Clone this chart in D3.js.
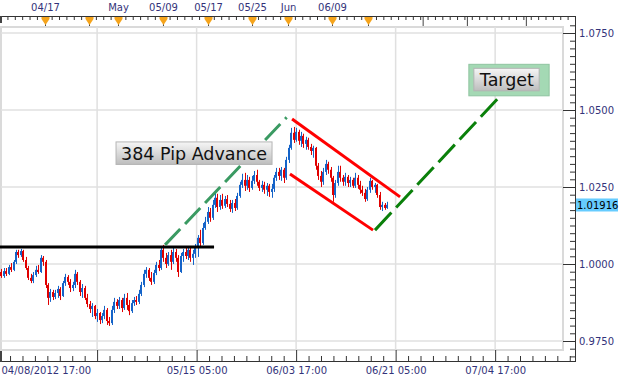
<!DOCTYPE html>
<html><head><meta charset="utf-8">
<script src="https://cdn.jsdelivr.net/npm/d3@7"></script>
<style>body{margin:0;background:#fff}svg{display:block}text{font-family:"DejaVu Sans",Verdana,sans-serif}</style>
</head><body><svg id="c" width="624" height="382"></svg>
<script>
// ---- data (8-hour bars, EUR/CHF-like price) ----
const opens=[.9974,.9961,.9977,.9968,.9990,.9981,1.0007,1.0039,1.0029,1.0042,
1.0013,.9987,.9955,.9945,.9964,.9981,.9974,1.0020,1.0007,.9932,
.9890,.9909,.9893,.9906,.9919,.9896,.9938,.9958,.9942,.9922,
.9932,.9968,.9942,.9909,.9922,.9890,.9870,.9854,.9864,.9831,
.9841,.9818,.9831,.9851,.9815,.9808,.9851,.9877,.9864,.9883,
.9857,.9890,.9867,.9847,.9873,.9883,.9877,.9903,.9932,.9968,
.9981,.9955,.9942,.9971,.9997,.9987,1.0046,1.0020,1.0000,1.0029,
1.0007,1.0039,1.0020,.9974,1.0026,1.0039,1.0026,1.0046,1.0020,1.0033,
1.0052,1.0085,1.0068,1.0117,1.0137,1.0169,1.0150,1.0192,1.0215,1.0185,
1.0208,1.0189,1.0211,1.0195,1.0179,1.0198,1.0182,1.0221,1.0257,1.0273,
1.0254,1.0273,1.0247,1.0270,1.0289,1.0267,1.0247,1.0257,1.0241,1.0254,
1.0234,1.0244,1.0280,1.0299,1.0286,1.0306,1.0280,1.0338,1.0377,1.0426,
1.0403,1.0429,1.0400,1.0416,1.0390,1.0403,1.0380,1.0367,1.0377,1.0319,
1.0286,1.0267,1.0299,1.0325,1.0306,1.0280,1.0224,1.0263,1.0299,1.0280,
1.0267,1.0283,1.0263,1.0273,1.0254,1.0280,1.0257,1.0241,1.0231,1.0211,
1.0241,1.0270,1.0250,1.0257,1.0224,1.0185,1.0192,1.0182];
const highs=[.9984,.9987,.9987,.9997,1.0003,1.0013,1.0046,1.0046,1.0049,1.0046,
1.0023,.9994,.9968,.9974,.9994,.9997,1.0029,1.0026,1.0013,.9938,
.9919,.9916,.9916,.9929,.9925,.9945,.9968,.9964,.9951,.9942,
.9981,.9974,.9948,.9935,.9929,.9903,.9880,.9873,.9867,.9854,
.9844,.9841,.9864,.9857,.9828,.9864,.9890,.9886,.9893,.9890,
.9903,.9906,.9883,.9883,.9893,.9896,.9916,.9942,.9981,.9990,
.9987,.9974,.9981,1.0007,1.0013,1.0052,1.0062,1.0036,1.0039,1.0046,
1.0052,1.0049,1.0029,1.0036,1.0049,1.0055,1.0055,1.0052,1.0046,1.0065,
1.0094,1.0111,1.0133,1.0153,1.0185,1.0182,1.0208,1.0231,1.0228,1.0224,
1.0228,1.0221,1.0224,1.0208,1.0208,1.0211,1.0231,1.0267,1.0293,1.0296,
1.0289,1.0283,1.0286,1.0302,1.0306,1.0273,1.0270,1.0267,1.0263,1.0260,
1.0260,1.0289,1.0312,1.0312,1.0315,1.0312,1.0348,1.0387,1.0442,1.0445,
1.0442,1.0436,1.0429,1.0423,1.0413,1.0410,1.0390,1.0384,1.0380,1.0328,
1.0302,1.0312,1.0338,1.0332,1.0315,1.0286,1.0273,1.0319,1.0319,1.0289,
1.0296,1.0289,1.0283,1.0280,1.0296,1.0289,1.0270,1.0254,1.0244,1.0250,
1.0280,1.0273,1.0263,1.0260,1.0234,1.0202,1.0198,1.0202];
const lows=[.9955,.9955,.9961,.9964,.9974,.9977,1.0000,1.0020,1.0023,1.0007,
.9981,.9948,.9938,.9938,.9958,.9968,.9971,.9994,.9922,.9867,
.9877,.9883,.9886,.9890,.9883,.9893,.9929,.9932,.9909,.9912,
.9922,.9932,.9896,.9890,.9883,.9860,.9841,.9828,.9821,.9812,
.9805,.9808,.9821,.9802,.9799,.9802,.9841,.9854,.9854,.9844,
.9851,.9851,.9834,.9841,.9864,.9867,.9870,.9896,.9925,.9955,
.9945,.9932,.9935,.9964,.9977,.9981,1.0007,.9987,.9994,.9981,
1.0000,1.0007,.9958,.9971,1.0007,1.0016,1.0013,1.0007,.9997,1.0020,
1.0023,1.0052,1.0062,1.0111,1.0130,1.0137,1.0143,1.0182,1.0169,1.0176,
1.0179,1.0182,1.0185,1.0169,1.0166,1.0172,1.0176,1.0215,1.0247,1.0237,
1.0241,1.0234,1.0241,1.0260,1.0254,1.0237,1.0234,1.0228,1.0221,1.0218,
1.0215,1.0234,1.0270,1.0273,1.0270,1.0263,1.0273,1.0328,1.0371,1.0393,
1.0397,1.0387,1.0380,1.0377,1.0371,1.0371,1.0354,1.0345,1.0306,1.0273,
1.0250,1.0257,1.0289,1.0293,1.0267,1.0202,1.0215,1.0254,1.0267,1.0254,
1.0254,1.0250,1.0250,1.0247,1.0247,1.0244,1.0228,1.0221,1.0202,1.0205,
1.0231,1.0241,1.0231,1.0215,1.0176,1.0172,1.0176,1.0179];
const closes=[.9961,.9977,.9968,.9990,.9981,1.0007,1.0039,1.0029,1.0042,1.0013,
.9987,.9955,.9945,.9964,.9981,.9974,1.0020,1.0007,.9932,.9890,
.9909,.9893,.9906,.9919,.9896,.9938,.9958,.9942,.9922,.9932,
.9968,.9942,.9909,.9922,.9890,.9870,.9854,.9864,.9831,.9841,
.9818,.9831,.9851,.9815,.9808,.9851,.9877,.9864,.9883,.9857,
.9890,.9867,.9847,.9873,.9883,.9877,.9903,.9932,.9968,.9981,
.9955,.9942,.9971,.9997,.9987,1.0046,1.0020,1.0000,1.0029,1.0007,
1.0039,1.0020,.9974,1.0026,1.0039,1.0026,1.0046,1.0020,1.0033,1.0052,
1.0085,1.0068,1.0117,1.0137,1.0169,1.0150,1.0192,1.0215,1.0185,1.0208,
1.0189,1.0211,1.0195,1.0179,1.0198,1.0182,1.0221,1.0257,1.0273,1.0254,
1.0273,1.0247,1.0270,1.0289,1.0267,1.0247,1.0257,1.0241,1.0254,1.0234,
1.0244,1.0280,1.0299,1.0286,1.0306,1.0280,1.0338,1.0377,1.0426,1.0403,
1.0429,1.0400,1.0416,1.0390,1.0403,1.0380,1.0367,1.0377,1.0319,1.0286,
1.0267,1.0299,1.0325,1.0306,1.0280,1.0224,1.0263,1.0299,1.0280,1.0267,
1.0283,1.0263,1.0273,1.0254,1.0280,1.0257,1.0241,1.0231,1.0211,1.0241,
1.0270,1.0250,1.0257,1.0224,1.0185,1.0192,1.0182,1.0192];
const lastPrice=1.01916;

// axis tick values / labels (x in 4-hour bar units)
const priceTicks=[0.975,1.0,1.025,1.05,1.075];
const priceTickLabels=["0.9750","1.0000","1.0250","1.0500","1.0750"];
const bottomTickUnits=[0,81,162,243,324,405];
const bottomTickLabels=["04/08/2012 17:00","","05/15 05:00","06/03 17:00","06/21 05:00","07/04 17:00"];
const topLabelUnits=[38.6,98,134.6,171.3,207.1,236.4,272.2];
const topLabels=["04/17","May","05/09","05/17","05/25","Jun","06/09"];
const eventUnits=[38.6,74.4,98,134.6,171.3,207.1,236.4,272.2,301.5];
const topLongTickUnits=[346,382,430];

// annotations in data units [unit, price]
const supportLine=[[0,1.0055],[176.2,1.0055]];
const advanceLine=[[136.3,1.0062],[235.3,1.0476]];
const channelUpper=[[239.7,1.0471],[327.6,1.0218]];
const channelLower=[[238.0,1.0292],[305.6,1.0110]];
const projectionLine=[[307.2,1.0110],[411.4,1.0555]];
const advanceLabel={text:"384 Pip Advance",u:159.9,p:1.0359};
const targetLabel={text:"Target",u:414.6,p:1.0598};

// ---- drawing ----
const svg=d3.select("#c");
const x=d3.scaleLinear().domain([0,460]).range([-2.4,562.7]);
const y=d3.scaleLinear().domain([0.975,1.075]).range([341,33]);
const L=1,R=563,T=27,B=350,AX=575,TOPY=16,BOTY=361;
const RED="#e00000",BLUE="#1463c8",TXT="#33337a";

const defs=svg.append("defs");
const gr=defs.append("linearGradient").attr("id","gbox").attr("x1",0).attr("y1",0).attr("x2",0).attr("y2",1);
gr.append("stop").attr("offset","0%").attr("stop-color","#f6f6f6");
gr.append("stop").attr("offset","100%").attr("stop-color","#bdbdbd");

svg.append("rect").attr("x",L).attr("y",T).attr("width",R-L).attr("height",B-T)
  .attr("fill","#fff").attr("stroke","#dadada").attr("stroke-width",2);
const grid=svg.append("g").attr("stroke","#e0e0e0").attr("stroke-width",1.5);
bottomTickUnits.slice(1).forEach(u=>grid.append("line").attr("x1",x(u)).attr("x2",x(u)).attr("y1",T).attr("y2",B));
priceTicks.forEach(p=>grid.append("line").attr("x1",L).attr("x2",R).attr("y1",y(p)).attr("y2",y(p)));

// candles
const bars=opens.map((o,i)=>({u:2*i+3,o,h:highs[i],l:lows[i],c:closes[i]}));
const cg=svg.append("g");
bars.forEach(d=>{
  const col=d.c>=d.o?BLUE:RED, px=Math.round(x(d.u));
  cg.append("rect").attr("x",px).attr("width",1).attr("y",y(d.h)).attr("height",y(d.l)-y(d.h)).attr("fill",col);
  const top=y(Math.max(d.o,d.c)), bot=y(Math.min(d.o,d.c));
  cg.append("rect").attr("x",px-1).attr("width",2).attr("y",top).attr("height",Math.max(1,bot-top)).attr("fill",col);
});

// annotation lines
const line=d3.line().x(d=>x(d[0])).y(d=>y(d[1]));
svg.append("path").attr("d",line(supportLine)).attr("stroke","#000").attr("stroke-width",3).attr("fill","none");
svg.append("path").attr("d",line(advanceLine)).attr("stroke","#3a9a62").attr("stroke-width",3).attr("stroke-dasharray","22,7").attr("fill","none");
svg.append("path").attr("d",line(channelUpper)).attr("stroke","#ff0000").attr("stroke-width",3).attr("fill","none");
svg.append("path").attr("d",line(channelLower)).attr("stroke","#ff0000").attr("stroke-width",3).attr("fill","none");
svg.append("path").attr("d",line(projectionLine)).attr("stroke","#0a800a").attr("stroke-width",3).attr("stroke-dasharray","24,7").attr("fill","none");

function labelBox(a,outer){
  const g=svg.append("g");
  const t=g.append("text").attr("x",x(a.u)).attr("y",y(a.p)+6.5).attr("text-anchor","middle")
    .attr("font-size","17.5px").attr("fill","#111").text(a.text);
  const bb=t.node().getBBox(), base=y(a.p)+6.5;
  const bx=bb.x-5, bw=bb.width+10, by=base-18, bh=22.5;
  if(outer){g.insert("rect","text").attr("x",bx-5).attr("y",by-4).attr("width",bw+15).attr("height",bh+9)
    .attr("fill","#a4d9b4").attr("stroke","#8fc4a0").attr("stroke-width",1);}
  g.insert("rect","text").attr("x",bx).attr("y",by).attr("width",bw).attr("height",bh)
    .attr("fill","url(#gbox)").attr("stroke","#b4b4b4").attr("stroke-width",1);
}
labelBox(advanceLabel,false);
labelBox(targetLabel,true);

// ---- axes ----
const font=g=>g.selectAll("text").attr("font-family","DejaVu Sans").attr("font-size","10px").attr("fill",TXT);
// right axis
svg.append("g").attr("transform",`translate(${AX},0)`)
  .call(d3.axisLeft(y).tickValues(priceTicks).tickSize(12).tickFormat(""))
  .call(g=>g.select(".domain").remove()).selectAll("line").attr("stroke","#333");
const minorP=d3.range(0,44).map(i=>0.97+i*0.0025).filter(p=>Math.abs((p-0.975)/0.025-Math.round((p-0.975)/0.025))>0.01&&y(p)>18&&y(p)<360);
svg.append("g").attr("transform",`translate(${AX},0)`)
  .call(d3.axisLeft(y).tickValues(minorP).tickSize(5).tickFormat(""))
  .call(g=>g.select(".domain").remove()).selectAll("line").attr("stroke","#333");
svg.append("g").attr("transform",`translate(${AX},0)`)
  .call(d3.axisRight(y).tickValues(priceTicks).tickSize(0).tickPadding(4).tickFormat((d,i)=>priceTickLabels[i]))
  .call(g=>g.select(".domain").remove()).call(font);

// bottom axis
const bMinor=d3.range(0,47).map(i=>i*10.125).filter(u=>Math.abs(u/81-Math.round(u/81))>0.01&&x(u)<AX);
svg.append("g").attr("transform",`translate(0,${BOTY})`)
  .call(d3.axisTop(x).tickValues(bottomTickUnits).tickSize(11).tickFormat(""))
  .call(g=>g.select(".domain").remove()).selectAll("line").attr("stroke","#333");
svg.append("g").attr("transform",`translate(0,${BOTY})`)
  .call(d3.axisTop(x).tickValues(bMinor).tickSize(5).tickFormat(""))
  .call(g=>g.select(".domain").remove()).selectAll("line").attr("stroke","#333");
const bl=svg.append("g").attr("transform",`translate(0,${BOTY})`)
  .call(d3.axisBottom(x).tickValues(bottomTickUnits).tickSize(0).tickPadding(6).tickFormat((d,i)=>bottomTickLabels[i]))
  .call(g=>g.select(".domain").remove()).call(font);
bl.selectAll("text").filter((d,i)=>i===0).attr("text-anchor","start").attr("x",3.4);

// top axis
const tMinor=d3.range(0,79).map(i=>2+i*6).filter(u=>x(u)<=AX);
svg.append("g").attr("transform",`translate(0,${TOPY})`)
  .call(d3.axisBottom(x).tickValues(tMinor).tickSize(4).tickFormat(""))
  .call(g=>g.select(".domain").remove()).selectAll("line").attr("stroke","#333");
svg.append("g").attr("transform",`translate(0,${TOPY})`)
  .call(d3.axisBottom(x).tickValues(topLongTickUnits.concat(eventUnits)).tickSize(10).tickFormat(""))
  .call(g=>g.select(".domain").remove()).selectAll("line").attr("stroke","#444");
svg.append("g").attr("transform",`translate(0,${TOPY})`)
  .call(d3.axisTop(x).tickValues(topLabelUnits).tickSize(0).tickPadding(5).tickFormat((d,i)=>topLabels[i]))
  .call(g=>g.select(".domain").remove()).call(font);
// event markers
svg.append("g").selectAll("path").data(eventUnits).join("path")
  .attr("d",u=>{const c=Math.round(x(u))+0.5;return `M${c-4},${TOPY+1}L${c+4},${TOPY+1}L${c+4},${TOPY+3}L${c},${TOPY+9}L${c-4},${TOPY+3}Z`;})
  .attr("fill","#f5a41c");

// axis lines
svg.append("line").attr("x1",0).attr("x2",AX+0.5).attr("y1",TOPY+0.5).attr("y2",TOPY+0.5).attr("stroke","#333");
svg.append("line").attr("x1",0).attr("x2",AX+0.5).attr("y1",BOTY+0.5).attr("y2",BOTY+0.5).attr("stroke","#333");
svg.append("line").attr("x1",AX+0.5).attr("x2",AX+0.5).attr("y1",TOPY).attr("y2",BOTY+1).attr("stroke","#333");
svg.append("rect").attr("x",0).attr("y",TOPY).attr("width",2).attr("height",7).attr("fill","#444");
svg.append("rect").attr("x",0).attr("y",BOTY-10).attr("width",2).attr("height",11).attr("fill","#444");

// last price tag
const ly=y(lastPrice);
svg.append("rect").attr("x",AX+1).attr("y",ly-6.5).attr("width",42).attr("height",13).attr("fill","#66ccff");
svg.append("text").attr("x",AX+2).attr("y",ly+3.8).attr("font-size","10px").attr("fill","#000").text(lastPrice.toFixed(5));
</script></body></html>
